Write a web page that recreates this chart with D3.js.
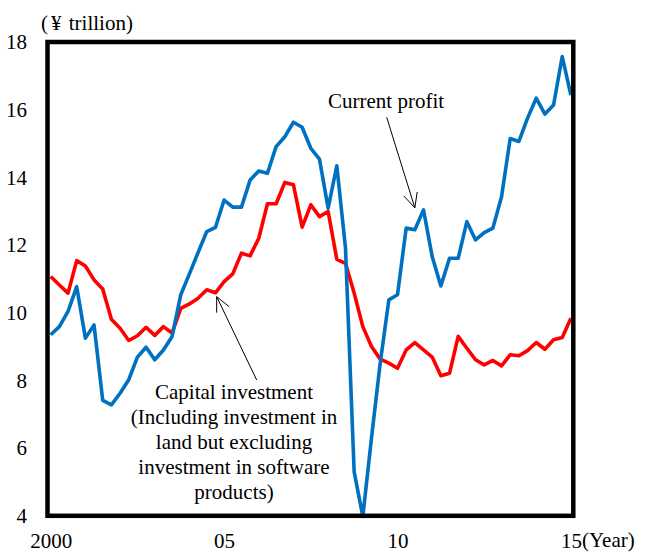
<!DOCTYPE html>
<html>
<head>
<meta charset="utf-8">
<script src="https://cdn.jsdelivr.net/npm/d3@7"></script>
<style>
  body { margin: 0; background: #fff; }
  svg { display: block; font-family: "Liberation Serif", "Times New Roman", serif; }
</style>
</head>
<body>
<div id="chart"></div>
<script>
// quarterly series, 2000 Q1 .. 2015 Q1 (¥ trillion)
const startYear = 2000;
const profit = [
  9.35, 9.59, 10.04, 10.77, 9.25, 9.64, 7.41, 7.28, 7.62, 8.02,
  8.69, 8.98, 8.61, 8.90, 9.30, 10.53, 11.15, 11.78, 12.40, 12.52,
  13.33, 13.12, 13.12, 13.92, 14.19, 14.12, 14.91, 15.20, 15.63, 15.48,
  14.86, 14.54, 13.09, 14.34, 11.92, 5.30, 3.98, 6.30, 8.50, 10.38,
  10.53, 12.50, 12.45, 13.04, 11.66, 10.79, 11.61, 11.61, 12.69, 12.15,
  12.37, 12.50, 13.43, 15.15, 15.06, 15.75, 16.34, 15.87, 16.14, 17.57,
  16.43
];
const capex = [
  11.07, 10.82, 10.58, 11.54, 11.38, 10.97, 10.70, 9.81, 9.54, 9.18,
  9.32, 9.57, 9.33, 9.59, 9.40, 10.13, 10.26, 10.43, 10.68, 10.59,
  10.92, 11.15, 11.76, 11.68, 12.20, 13.22, 13.22, 13.85, 13.78, 12.53,
  13.19, 12.84, 12.99, 11.58, 11.46, 10.58, 9.59, 9.00, 8.63, 8.51,
  8.36, 8.90, 9.12, 8.90, 8.69, 8.14, 8.21, 9.30, 8.95, 8.61,
  8.46, 8.59, 8.43, 8.76, 8.73, 8.88, 9.12, 8.92, 9.20, 9.27,
  9.84
];
const yTicks = [4, 6, 8, 10, 12, 14, 16, 18];
const xTicks = [2000, 2005, 2010, 2015];
const xTickLabels = ["2000", "05", "10", "15"];
const capexLabel = [
  "Capital investment",
  "(Including investment in",
  "land but excluding",
  "investment in software",
  "products)"
];

const width = 645, height = 553;
const frame = {left: 47.5, right: 573.3, top: 42, bottom: 515.8};

const svg = d3.select("#chart").append("svg")
  .attr("width", width)
  .attr("height", height)
  .style("font-size", "21px");

const x = d3.scaleLinear().domain([2000, 2015]).range([50.7, 570.9]);
const y = d3.scaleLinear().domain([4, 18]).range([frame.bottom, frame.top]);

// y axis labels
svg.append("g")
  .attr("transform", `translate(${frame.left},0)`)
  .call(d3.axisLeft(y).tickValues(yTicks).tickSize(0).tickPadding(20.5))
  .call(g => g.select(".domain").remove())
  .selectAll("text")
  .attr("fill", "#000")
  .style("font-size", "21px")
  .style("font-family", "Liberation Serif");

// x axis labels
svg.append("g")
  .attr("transform", `translate(0,${frame.bottom})`)
  .call(d3.axisBottom(x).tickValues(xTicks).tickSize(0).tickPadding(17)
    .tickFormat((d, i) => xTickLabels[i]))
  .call(g => g.select(".domain").remove())
  .selectAll("text")
  .attr("fill", "#000")
  .style("font-size", "21px")
  .style("font-family", "Liberation Serif");

svg.append("text")
  .attr("x", 582)
  .attr("y", 547)
  .text("(Year)");

const unit = svg.append("text")
  .attr("x", 41)
  .attr("y", 30);
unit.append("tspan").text("(");
unit.append("tspan").attr("dx", 3).text("¥");
unit.append("tspan").attr("dx", 2).text(" trillion)");

// series
const line = d3.line()
  .x((d, i) => x(startYear + i / 4))
  .y(d => y(d));

svg.append("path")
  .datum(capex)
  .attr("fill", "none")
  .attr("stroke", "#ff0000")
  .attr("stroke-width", 3.6)
  .attr("stroke-linejoin", "round")
  .attr("d", line);

svg.append("path")
  .datum(profit)
  .attr("fill", "none")
  .attr("stroke", "#0070c0")
  .attr("stroke-width", 3.6)
  .attr("stroke-linejoin", "round")
  .attr("d", line);

// frame
svg.append("rect")
  .attr("x", frame.left)
  .attr("y", frame.top)
  .attr("width", frame.right - frame.left)
  .attr("height", frame.bottom - frame.top)
  .attr("fill", "none")
  .attr("stroke", "#000")
  .attr("stroke-width", 4.5);

// annotations
function arrow(x1, y1, x2, y2) {
  const a = Math.atan2(y2 - y1, x2 - x1);
  const len = 16, spread = Math.PI / 7;
  svg.append("line")
    .attr("x1", x1).attr("y1", y1).attr("x2", x2).attr("y2", y2)
    .attr("stroke", "#000").attr("stroke-width", 1);
  [a + spread, a - spread].forEach(b => {
    svg.append("line")
      .attr("x1", x2).attr("y1", y2)
      .attr("x2", x2 - len * Math.cos(b)).attr("y2", y2 - len * Math.sin(b))
      .attr("stroke", "#000").attr("stroke-width", 1);
  });
}

svg.append("text")
  .attr("x", 328)
  .attr("y", 108)
  .text("Current profit");
arrow(386.7, 117.3, x(2010.5), y(profit[42]) - 22);

svg.append("g")
  .selectAll("text")
  .data(capexLabel)
  .join("text")
  .attr("x", 234)
  .attr("y", (d, i) => 398.5 + i * 25.1)
  .attr("text-anchor", "middle")
  .text(d => d);
arrow(256.7, 380, 216.7, 296.7);
</script>
</body>
</html>
